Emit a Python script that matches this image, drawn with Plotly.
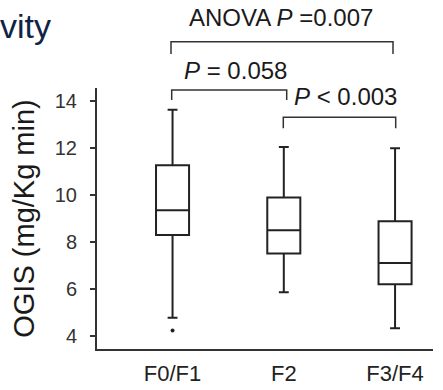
import plotly.graph_objects as go

categories = ["F0/F1", "F2", "F3/F4"]
q1 = [8.30, 7.51, 6.20]
median = [9.35, 8.50, 7.11]
q3 = [11.26, 9.89, 8.88]
lower_fence = [4.78, 5.86, 4.33]
upper_fence = [13.63, 12.04, 11.99]
outlier_x = ["F0/F1"]
outlier_y = [4.24]
y_ticks = [4, 6, 8, 10, 12, 14]

FONT = "Liberation Sans, Arial, sans-serif"
INK = "#222222"

fig = go.Figure()
fig.add_trace(go.Box(
    x=categories, q1=q1, median=median, q3=q3,
    lowerfence=lower_fence, upperfence=upper_fence,
    width=0.297, whiskerwidth=0.3, boxpoints=False,
    fillcolor="white", line=dict(color=INK, width=2),
    showlegend=False, hoverinfo="skip",
))
fig.add_trace(go.Scatter(
    x=outlier_x, y=outlier_y, mode="markers",
    marker=dict(color=INK, size=4), showlegend=False, hoverinfo="skip",
))

def px2pa_x(px):
    return (px - 97) / 336

def px2pa_y(py):
    return (349 - py) / 261

shapes = []
def bracket(x0, x1, ytop, ybot):
    shapes.append(dict(type="path", xref="paper", yref="paper",
                       path=f"M {px2pa_x(x0)},{px2pa_y(ybot)} L {px2pa_x(x0)},{px2pa_y(ytop)} "
                            f"L {px2pa_x(x1)},{px2pa_y(ytop)} L {px2pa_x(x1)},{px2pa_y(ybot)}",
                       line=dict(color="#333333", width=1.5)))

bracket(171, 393, 41.7, 54)
bracket(171.7, 286.7, 90, 100)
bracket(283.3, 395.7, 117.3, 128.3)

annotations = [
    dict(text="ANOVA <i>P</i> =0.007", x=px2pa_x(280.5), y=px2pa_y(17.5),
         xanchor="center", yanchor="middle"),
    dict(text="<i>P</i> = 0.058", x=px2pa_x(183), y=px2pa_y(70),
         xanchor="left", yanchor="middle"),
    dict(text="<i>P</i> < 0.003", x=px2pa_x(293.3), y=px2pa_y(96.7),
         xanchor="left", yanchor="middle"),
]
for a in annotations:
    a.update(xref="paper", yref="paper", showarrow=False,
             font=dict(family=FONT, size=24, color="#1a1a1a"), borderpad=0)
annotations.append(dict(text="vity", x=px2pa_x(-1), y=px2pa_y(26), xref="paper", yref="paper",
                        xanchor="left", yanchor="middle", showarrow=False, borderpad=0,
                        font=dict(family=FONT, size=34, color="#0f2445")))

fig.update_layout(
    width=443, height=390,
    margin=dict(l=97, r=10, t=88, b=41),
    paper_bgcolor="white", plot_bgcolor="white",
    shapes=shapes, annotations=annotations,
    xaxis=dict(
        range=[-0.679, 2.341], showgrid=False, zeroline=False,
        showline=True, linecolor="#333333", linewidth=1.5,
        ticks="", ticklabelstandoff=4,
        tickfont=dict(family=FONT, size=22, color=INK),
        automargin=False, fixedrange=True,
    ),
    yaxis=dict(
        range=[3.45, 14.55], tickvals=y_ticks, showgrid=False, zeroline=False,
        showline=True, linecolor="#333333", linewidth=2,
        ticks="outside", ticklen=5, tickwidth=2, tickcolor="#333333",
        ticklabelstandoff=9,
        tickfont=dict(family=FONT, size=20, color="#333333"),
        title=dict(text="OGIS (mg/Kg min)", font=dict(family=FONT, size=29, color="#1a1a1a"),
                   standoff=12),
        automargin=False, fixedrange=True,
    ),
)

fig.write_html("out.html")
